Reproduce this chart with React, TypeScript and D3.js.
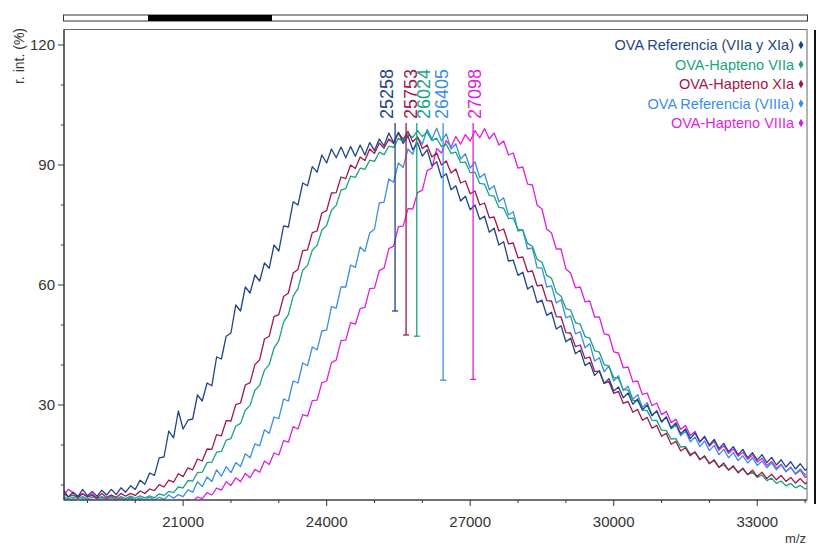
import React from 'react';
import * as d3 from 'd3';

// ---- data ----
const mzStart = 18500;
const mzStep = 100;

const seriesNames = [
  'OVA Referencia (VIIa y XIa)',
  'OVA-Hapteno VIIa',
  'OVA-Hapteno XIa',
  'OVA Referencia (VIIIa)',
  'OVA-Hapteno VIIIa',
];
const seriesColors = ['#1d4489', '#17a57a', '#a3164b', '#3a8ee6', '#e01ee0'];

const refVIIaXIa = [
  8.8, 7.0, 8.2, 7.1, 8.9, 7.3, 8.4, 7.2, 8.7, 7.5,
  8.9, 7.6, 9.3, 8.2, 9.8, 8.9, 11.2, 10.2, 13.0, 12.4,
  16.8, 17.0, 23.5, 21.8, 28.5, 24.0, 26.2, 26.5, 32.5, 31.0,
  35.5, 34.8, 42.0, 41.5, 47.2, 48.0, 55.0, 53.5, 59.5, 58.0,
  62.5, 61.0, 65.5, 64.2, 70.0, 68.5, 74.8, 74.5, 80.8, 80.0,
  85.5, 84.8, 89.6, 88.2, 92.5, 90.5, 94.0, 91.8, 94.5, 91.8,
  94.6, 92.2, 95.0, 92.5, 95.6, 93.6, 96.5, 94.8, 98.0, 95.6,
  98.2, 95.4, 97.2, 93.8, 95.6, 92.2, 93.8, 89.8, 90.8, 86.8,
  87.8, 83.8, 84.8, 81.0, 82.2, 78.8, 80.0, 76.4, 77.2, 73.2,
  74.2, 70.0, 70.8, 66.0, 66.2, 62.4, 63.2, 59.0, 59.8, 55.6,
  56.2, 52.4, 53.2, 49.0, 49.8, 45.8, 46.7, 42.8, 43.7, 39.9,
  40.6, 37.4, 38.6, 35.4, 36.6, 33.5, 34.5, 31.8, 33.0, 30.2,
  31.5, 28.8, 30.0, 27.3, 28.5, 25.8, 27.0, 24.3, 25.5, 22.8,
  24.0, 21.6, 23.0, 20.7, 22.2, 20.0, 21.4, 19.1, 20.4, 18.3,
  19.6, 17.6, 18.9, 16.8, 18.1, 16.2, 17.6, 15.6, 16.9, 15.0,
  16.3, 14.5, 15.8, 14.0, 15.3, 13.7, 14.6,
];
const haptenoVIIa = [
  7.1, 6.5, 7.0, 6.6, 7.1, 6.5, 7.0, 6.6, 7.1, 6.6,
  7.0, 6.5, 7.1, 6.6, 7.2, 6.7, 7.3, 6.8, 7.3, 6.8,
  7.8, 7.4, 8.4, 8.1, 9.5, 9.3, 11.1, 11.0, 13.1, 13.2,
  15.6, 15.7, 18.2, 18.4, 21.2, 21.6, 24.7, 25.4, 28.7, 29.9,
  33.7, 34.9, 38.7, 40.1, 44.2, 46.1, 50.7, 52.6, 57.2, 59.1,
  63.7, 64.9, 68.7, 69.9, 73.7, 74.9, 78.7, 79.9, 83.7, 84.1,
  87.2, 86.9, 89.2, 88.9, 91.2, 90.9, 93.2, 92.6, 94.7, 94.4,
  96.7, 95.9, 97.7, 96.9, 98.6, 97.1, 98.2, 96.1, 96.7, 94.6,
  95.2, 92.9, 93.2, 90.6, 90.7, 88.1, 88.2, 85.4, 85.2, 82.4,
  82.2, 79.4, 79.2, 76.6, 76.7, 73.9, 73.7, 70.4, 69.7, 66.4,
  65.7, 62.4, 61.7, 58.1, 57.2, 54.1, 53.7, 50.6, 50.2, 47.1,
  46.7, 43.6, 43.2, 40.1, 39.7, 36.9, 36.7, 33.9, 33.7, 31.1,
  31.1, 28.7, 28.6, 26.2, 26.1, 23.7, 23.6, 21.5, 21.6, 19.5,
  19.6, 17.7, 18.1, 16.5, 17.0, 15.5, 16.0, 14.5, 15.0, 13.8,
  14.5, 13.3, 14.0, 12.6, 13.2, 11.9, 12.5, 11.1, 11.7, 10.4,
  11.0, 9.8, 10.4, 9.3, 9.9, 9.0, 9.5,
];
const haptenoXIa = [
  7.9, 7.0, 7.5, 6.9, 7.8, 7.0, 7.4, 6.8, 7.9, 6.9,
  7.5, 6.9, 7.9, 7.2, 7.9, 7.4, 8.5, 7.9, 9.0, 8.6,
  10.1, 9.5, 11.2, 10.7, 12.8, 12.1, 14.3, 13.8, 16.5, 16.0,
  19.0, 18.9, 22.6, 22.3, 26.1, 26.0, 30.1, 30.5, 35.0, 35.6,
  40.1, 41.3, 46.5, 47.2, 52.1, 52.6, 57.1, 58.0, 63.0, 63.9,
  68.6, 68.8, 73.1, 73.5, 78.0, 78.6, 83.0, 83.1, 87.0, 86.6,
  90.0, 89.1, 92.0, 91.1, 94.0, 92.9, 95.5, 94.2, 96.5, 95.4,
  98.0, 96.4, 98.4, 95.8, 97.0, 94.1, 95.0, 92.0, 93.0, 90.0,
  91.0, 88.0, 89.0, 85.5, 86.0, 82.8, 83.5, 80.0, 80.5, 76.8,
  77.0, 73.5, 74.0, 70.3, 70.5, 66.8, 67.0, 63.3, 63.5, 59.8,
  60.0, 56.1, 56.0, 52.1, 52.0, 48.1, 48.0, 44.6, 45.0, 41.6,
  42.0, 38.4, 38.4, 35.4, 35.9, 32.9, 33.4, 30.4, 30.9, 28.2,
  28.9, 26.2, 26.9, 24.2, 24.9, 22.2, 22.9, 20.2, 20.9, 18.5,
  19.3, 17.3, 18.3, 16.3, 17.3, 15.3, 16.3, 14.4, 15.5, 13.7,
  14.8, 13.0, 14.2, 12.6, 13.7, 12.1, 13.2, 11.6, 12.7, 11.3,
  12.4, 10.9, 11.9, 10.5, 11.6, 10.3, 11.1,
];
const refVIIIa = [
  6.8, 6.0, 6.6, 5.9, 6.7, 6.1, 6.5, 5.9, 6.6, 6.0,
  6.7, 6.0, 6.6, 6.1, 6.9, 6.2, 6.8, 6.3, 6.9, 6.3,
  6.9, 6.4, 7.5, 6.7, 7.6, 7.1, 8.8, 8.2, 10.8, 9.6,
  12.0, 10.9, 13.8, 12.2, 14.6, 13.1, 15.6, 14.6, 17.8, 16.8,
  20.3, 19.8, 23.8, 22.9, 27.0, 26.6, 31.5, 31.0, 36.0, 35.5,
  40.5, 39.8, 44.5, 43.8, 48.5, 48.7, 54.6, 54.2, 59.5, 59.5,
  65.0, 64.4, 69.5, 68.4, 73.0, 74.0, 80.5, 80.7, 86.5, 85.7,
  90.5, 89.4, 94.0, 92.7, 96.9, 95.2, 98.9, 96.5, 99.2, 96.0,
  97.8, 94.0, 95.3, 91.5, 92.8, 89.2, 90.8, 86.8, 87.8, 83.8,
  84.8, 80.8, 81.8, 77.5, 78.3, 73.5, 73.8, 69.0, 69.3, 64.3,
  64.3, 59.5, 59.8, 55.5, 56.3, 51.8, 52.3, 47.8, 48.3, 44.3,
  45.3, 41.0, 41.8, 38.3, 39.8, 36.0, 37.3, 33.6, 34.7, 31.4,
  32.6, 29.4, 30.6, 27.4, 28.6, 25.7, 27.0, 24.0, 25.0, 22.3,
  23.5, 20.8, 22.0, 19.6, 21.0, 18.6, 19.9, 17.6, 18.9, 16.8,
  18.1, 16.1, 17.3, 15.5, 16.8, 14.9, 16.0, 14.3, 15.5, 13.8,
  15.0, 13.3, 14.5, 12.8, 14.0, 12.5, 13.4,
];
const haptenoVIIIa = [
  7.4, 8.9, 8.1, 7.2, 7.9, 7.0, 7.8, 6.5, 7.0, 6.3,
  7.3, 6.2, 6.8, 6.1, 6.7, 5.9, 6.4, 5.7, 6.2, 5.6,
  6.0, 5.3, 5.9, 5.4, 6.3, 5.7, 6.4, 5.9, 7.0, 6.6,
  8.1, 7.5, 9.2, 8.7, 10.8, 9.9, 11.8, 10.8, 12.9, 11.8,
  13.9, 13.2, 16.0, 15.1, 18.0, 17.5, 21.1, 20.7, 24.6, 24.0,
  27.6, 27.2, 31.1, 31.2, 35.6, 36.0, 40.6, 41.2, 46.1, 46.2,
  50.6, 50.2, 54.1, 54.4, 59.1, 59.2, 63.6, 64.2, 69.1, 69.7,
  74.6, 74.7, 79.1, 79.0, 83.1, 83.7, 88.6, 89.2, 94.1, 93.0,
  96.1, 94.5, 97.1, 95.2, 97.6, 96.0, 98.6, 96.8, 99.1, 96.5,
  98.0, 95.0, 96.0, 92.5, 93.0, 89.2, 89.5, 85.2, 85.0, 80.0,
  79.0, 74.0, 73.0, 69.0, 69.0, 64.0, 63.0, 59.3, 59.5, 55.8,
  56.0, 52.0, 52.0, 47.8, 47.5, 43.3, 43.0, 39.3, 39.5, 35.8,
  36.0, 32.6, 33.0, 29.8, 30.5, 27.6, 28.4, 25.6, 26.4, 23.9,
  24.9, 22.4, 23.4, 20.9, 21.9, 19.7, 20.9, 18.7, 19.8, 17.9,
  19.0, 17.2, 18.2, 16.4, 17.5, 15.7, 16.7, 14.9, 15.9, 14.2,
  15.2, 13.4, 14.4, 12.7, 13.7, 11.9, 12.5,
];

// draw order: [index into names/colors, values]
const drawOrder: [number, number[]][] = [
  [4, haptenoVIIIa],
  [3, refVIIIa],
  [1, haptenoVIIa],
  [2, haptenoXIa],
  [0, refVIIaXIa],
];

// peak annotations (label order left to right)
const peakLabels = ['25258', '25753', '26024', '26405', '27098'];
const peakMz = [25258, 25753, 26024, 26405, 27098];
const peakColors = ['#1d4489', '#a3164b', '#17a57a', '#3a8ee6', '#e01ee0'];
const markerMz = [25430, 25660, 25884, 26434, 27061];
const markerLow = [53.5, 47.5, 47.2, 36.2, 36.4];
const markerHigh = 100.5;

const xMajorTicks = [21000, 24000, 27000, 30000, 33000];
const xMinorTicks = [19000, 20000, 22000, 23000, 25000, 26000, 28000, 29000, 31000, 32000, 34000];
const yMajorTicks = [30, 60, 90, 120];
const yMinorTicks = [10, 20, 40, 50, 70, 80, 100, 110];

const W = 817;
const H = 545;
const left = 64;
const right = 807;
const top = 29.5;
const bottom = 500;

const FONT = "'Liberation Sans', Arial, sans-serif";

export default function App() {
  const x = d3.scaleLinear().domain([18510, 34040]).range([left, right]);
  const y = d3.scaleLinear().domain([6.25, 123.875]).range([bottom, top]);
  const line = d3
    .line<[number, number]>()
    .x((d) => x(d[0]))
    .y((d) => y(d[1]));

  const toPts = (vals: number[]): [number, number][] =>
    vals.map((v, i) => [mzStart + i * mzStep, v]);

  return (
    <svg
      width={W}
      height={H}
      style={{ position: 'absolute', left: 0, top: 0, background: '#fff' }}
      fontFamily={FONT}
    >
      <defs>
        <clipPath id="plot">
          <rect x={left} y={top} width={right - left} height={bottom - top} />
        </clipPath>
      </defs>

      {/* overview bar */}
      <rect x={63.5} y={15} width={744} height={6} fill="#fff" stroke="#333" strokeWidth={1} />
      <rect x={148} y={15} width={124} height={6} fill="#000" />

      {/* frame */}
      <rect x={left} y={top} width={right - left} height={bottom - top} fill="none" stroke="#666" strokeWidth={1} />
      <line x1={815} x2={815} y1={30} y2={504} stroke="#111" strokeWidth={2} />

      {/* curves */}
      <g clipPath="url(#plot)">
        {drawOrder.map(([ci, vals]) => (
          <path
            key={ci}
            d={line(toPts(vals)) || ''}
            fill="none"
            stroke={seriesColors[ci]}
            strokeWidth={1.3}
            strokeLinejoin="round"
          />
        ))}
      </g>

      {/* peak markers */}
      {markerMz.map((m, i) => (
        <g key={'mk' + i} stroke={peakColors[i]} strokeWidth={1.3}>
          <line x1={x(m)} x2={x(m)} y1={y(markerHigh)} y2={y(markerLow[i])} />
          <line x1={x(m) - 3} x2={x(m) + 3} y1={y(markerLow[i])} y2={y(markerLow[i])} />
        </g>
      ))}
      {peakLabels.map((t, i) => (
        <text
          key={'pl' + i}
          transform={`translate(${x(peakMz[i]) + 6.5},119) rotate(-90)`}
          fontSize={18}
          fill={peakColors[i]}
        >
          {t}
        </text>
      ))}

      {/* axes */}
      <line x1={left} x2={left} y1={top} y2={bottom} stroke="#333" strokeWidth={1.2} />
      <line x1={left} x2={right} y1={bottom} y2={bottom} stroke="#333" strokeWidth={1.2} />
      {yMajorTicks.map((t) => (
        <g key={'ym' + t}>
          <line x1={left - 6} x2={left} y1={y(t)} y2={y(t)} stroke="#333" />
          <text x={left - 9} y={y(t) + 5} textAnchor="end" fontSize={15} fill="#333">
            {t}
          </text>
        </g>
      ))}
      {yMinorTicks.map((t) => (
        <line key={'yn' + t} x1={left - 3} x2={left} y1={y(t)} y2={y(t)} stroke="#333" />
      ))}
      {xMajorTicks.map((t) => (
        <g key={'xm' + t}>
          <line x1={x(t)} x2={x(t)} y1={bottom} y2={bottom + 6} stroke="#333" />
          <text x={x(t)} y={bottom + 27} textAnchor="middle" fontSize={15} fill="#333">
            {t}
          </text>
        </g>
      ))}
      {xMinorTicks.map((t) => (
        <line key={'xn' + t} x1={x(t)} x2={x(t)} y1={bottom} y2={bottom + 3} stroke="#333" />
      ))}
      <text x={806} y={543} textAnchor="end" fontSize={13} fill="#333">
        m/z
      </text>
      <text transform="translate(24,28) rotate(-90)" textAnchor="end" fontSize={14} fill="#333">
        r. int. (%)
      </text>

      {/* legend */}
      {seriesNames.map((n, i) => (
        <g key={'lg' + i}>
          <text x={794} y={50 + i * 19.5} textAnchor="end" fontSize={14.5} fill={seriesColors[i]}>
            {n}
          </text>
          <path
            d={d3.symbol(d3.symbolDiamond, 22)() || ''}
            transform={`translate(801,${45 + i * 19.5})`}
            fill={seriesColors[i]}
          />
        </g>
      ))}
    </svg>
  );
}
